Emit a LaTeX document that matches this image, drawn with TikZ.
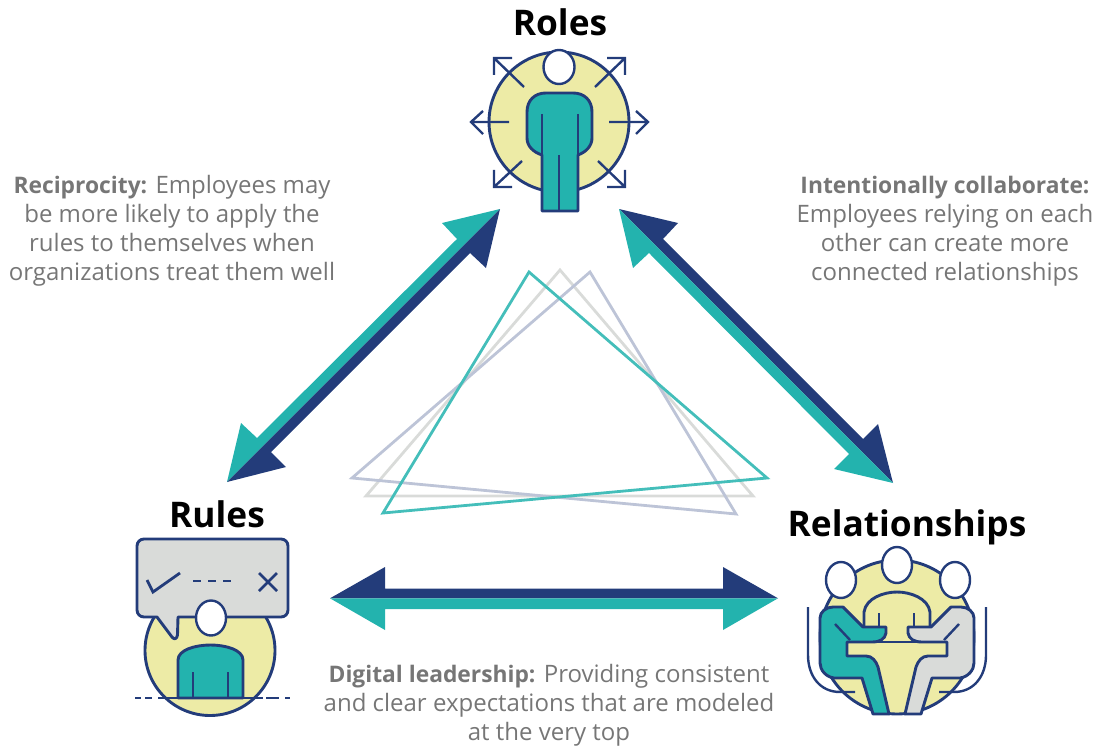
\documentclass[tikz,border=0pt]{standalone}
\usepackage{fontspec}
\setmainfont{Open Sans}
\definecolor{navy}{HTML}{233C7A}
\definecolor{teal1}{HTML}{23B3AE}
\definecolor{pale}{HTML}{EDEBA6}
\definecolor{lgray}{HTML}{D9DBD9}
\definecolor{txt}{HTML}{767676}
\newcommand{\leadin}[1]{{\fontsize{22.8}{28.9}\selectfont\bfseries #1}}
\tikzset{
  ink/.style={draw=navy,line width=2.9pt,line join=round},
  thin ink/.style={draw=navy,line width=2.4pt},
  disc/.style={ink,fill=pale},
  head/.style={ink,fill=white,line width=2.4pt},
  tealbody/.style={ink,fill=teal1},
  graybody/.style={ink,fill=lgray},
  title/.style={font=\fontsize{35.3}{40}\selectfont\bfseries,text=black,inner sep=0pt},
  desc/.style={font=\fontsize{24}{28.9}\selectfont,text=txt,align=center,inner sep=0pt},
  tri/.style={line width=2.8pt,line join=miter,fill=none},
}
\begin{document}
\begin{tikzpicture}[x=1pt,y=-1pt]
\useasboundingbox (0,0) rectangle (1099,746);
% anchors
\coordinate (roleL) at (500,209);
\coordinate (roleR) at (619,209);
\coordinate (ruleT) at (227,482);
\coordinate (relaT) at (893,483);
\coordinate (ruleH) at (330,598.3);
\coordinate (relaH) at (778,598.3);
% triangles
\draw[tri,draw=lgray] (560,270) -- (366,496) -- (753,496) -- cycle;
\draw[tri,draw=navy!30] (590,272) -- (352,478) -- (736,514) -- cycle;
\draw[tri,draw=teal1!85!white] (529,272) -- (383,513) -- (767,478) -- cycle;
% double arrows
\fill[teal1] (roleL) -- (442,223) -- (457,239) -- (257,438) -- (241,423) -- (ruleT) -- cycle;
\fill[navy] (roleL) -- (486,268) -- (470,253) -- (271,452) -- (286,467) -- (ruleT) -- cycle;
\fill[navy] (roleR) -- (678,223) -- (663,239) -- (863,439) -- (878,424) -- (relaT) -- cycle;
\fill[teal1] (roleR) -- (633,268) -- (649,253) -- (849,454) -- (834,469) -- (relaT) -- cycle;
\fill[navy] (ruleH) -- (385,567) -- (385,588.5) -- (723,588.5) -- (723,567) -- (relaH) -- cycle;
\fill[teal1] (ruleH) -- (385,630) -- (385,609) -- (723,609) -- (723,630) -- (relaH) -- cycle;
% Roles icon
\draw[disc] (559,122) circle[radius=70pt];
\draw[head] (559,67) ellipse[x radius=15.5pt,y radius=17pt];
\draw[tealbody] (542,155) .. controls (533,152) and (527,146) .. (527,138) -- (527,112) .. controls (527,100) and (535,93) .. (546,93) -- (573,93) .. controls (584,93) and (592,100) .. (592,112) -- (592,138) .. controls (592,146) and (586,152) .. (578,155) -- (578,211) -- (542,211) -- cycle;
\draw[thin ink] (542,114) -- (542,155) (578,114) -- (578,155) (559,155) -- (559,211);
\draw[thin ink] (509,122) -- (471,122) (483,111) -- (471,122) -- (483,134);
\draw[thin ink] (609,122) -- (648,122) (636,111) -- (648,122) -- (636,134);
\draw[thin ink] (524,87) -- (494,58) (512,58) -- (494,58) -- (494,75);
\draw[thin ink] (595,87) -- (625,58) (607,58) -- (625,58) -- (625,75);
\draw[thin ink] (522,161) -- (494,187) (512,187) -- (494,187) -- (494,170);
\draw[thin ink] (598,161) -- (625,187) (607,187) -- (625,187) -- (625,170);
% Rules icon
\draw[disc] (210,650.5) circle[radius=65pt];
\draw[ink,fill=lgray] (144,539) -- (281,539) .. controls (285,539) and (288,542) .. (288,546) -- (288,610) .. controls (288,614) and (285,617) .. (281,617) -- (178,617) -- (177.5,635) .. controls (177,639) and (174,640) .. (172,637) -- (157,617) -- (144,617) .. controls (140,617) and (137,614) .. (137,610) -- (137,546) .. controls (137,542) and (140,539) .. (144,539) -- cycle;
\draw[head] (211,618) ellipse[x radius=15pt,y radius=17.5pt];
\draw[tealbody] (178,698) -- (178,660) .. controls (178,650) and (195,645) .. (210.5,645) .. controls (226,645) and (243,650) .. (243,660) -- (243,698) -- cycle;
\draw[thin ink] (193,672) -- (193,698) (228,672) -- (228,698);
\draw[thin ink] (135,698) -- (141,698) (145,698) -- (152,698) (158,698) -- (263,698) (266,698) -- (279,698) (285,698) -- (290,698);
\draw[thin ink,line width=2.8pt] (147,580) -- (153,592) -- (180,573);
\draw[thin ink] (193,581) -- (201,581) (208,581) -- (216,581) (223,581) -- (231,581);
\draw[thin ink,line width=2.8pt] (259,573) -- (277,591) (259,591) -- (277,573);
% Relationships icon
\draw[disc] (897,637) circle[radius=77pt];
\draw[thin ink] (808,607) -- (808,655) .. controls (808,676) and (820,692) .. (840,692) -- (855,692);
\draw[thin ink] (986,607) -- (986,655) .. controls (986,676) and (974,692) .. (954,692) -- (939,692);
\draw[ink,fill=pale] (864,627) -- (864,612) .. controls (866,598) and (884,592) .. (897,592) .. controls (910,592) and (928,598) .. (930,612) -- (930,627);
\draw[thin ink] (879,613) -- (879,627) (914,613) -- (914,627);
\draw[tealbody] (833,607) -- (843,607) -- (863,627) -- (886,627) -- (886,633) .. controls (885,639) and (880,642) .. (872,642) -- (847,642) -- (847,656) -- (866,656) .. controls (872,656) and (876,661) .. (878,667) -- (889,714) -- (873,714) -- (862,678) -- (834,678) .. controls (826,677) and (820,670) .. (820,663) -- (820,618) .. controls (820,612) and (826,607) .. (833,607) -- cycle;
\draw[graybody] (961,607) -- (951,607) -- (931,627) -- (908,627) -- (908,633) .. controls (909,639) and (914,642) .. (922,642) -- (947,642) -- (947,656) -- (928,656) .. controls (922,656) and (918,661) .. (916,667) -- (905,714) -- (921,714) -- (932,678) -- (960,678) .. controls (968,677) and (974,670) .. (974,663) -- (974,618) .. controls (974,612) and (968,607) .. (961,607) -- cycle;
\draw[thin ink] (835,624) -- (850,640) (959,624) -- (944,640);
\draw[ink] (847,642) -- (947,642);
\draw[thin ink,line width=1.4pt] (873,714.5) -- (921,714.5);
\draw[head] (841,580) ellipse[x radius=15pt,y radius=18pt];
\draw[head] (955,580) ellipse[x radius=15pt,y radius=18pt];
\draw[head] (897,565) ellipse[x radius=15pt,y radius=18pt];
% titles
\node[title] (tRoles) at (560,22) {Roles};
\node[title] (tRules) at (217,514) {Rules};
\node[title] (tRela) at (907,527) {Relationships};
% descriptions
\node[desc] (dL) at (172,231) {\leadin{Reciprocity:} Employees may\\be more likely to apply the\\rules to themselves when\\organizations treat them well};
\node[desc] (dR) at (945,231) {\leadin{Intentionally collaborate:}\\Employees relying on each\\other can create more\\connected relationships};
\node[desc] (dB) at (549,705) {\leadin{Digital leadership:} Providing consistent\\and clear expectations that are modeled\\at the very top};
\end{tikzpicture}
\end{document}
